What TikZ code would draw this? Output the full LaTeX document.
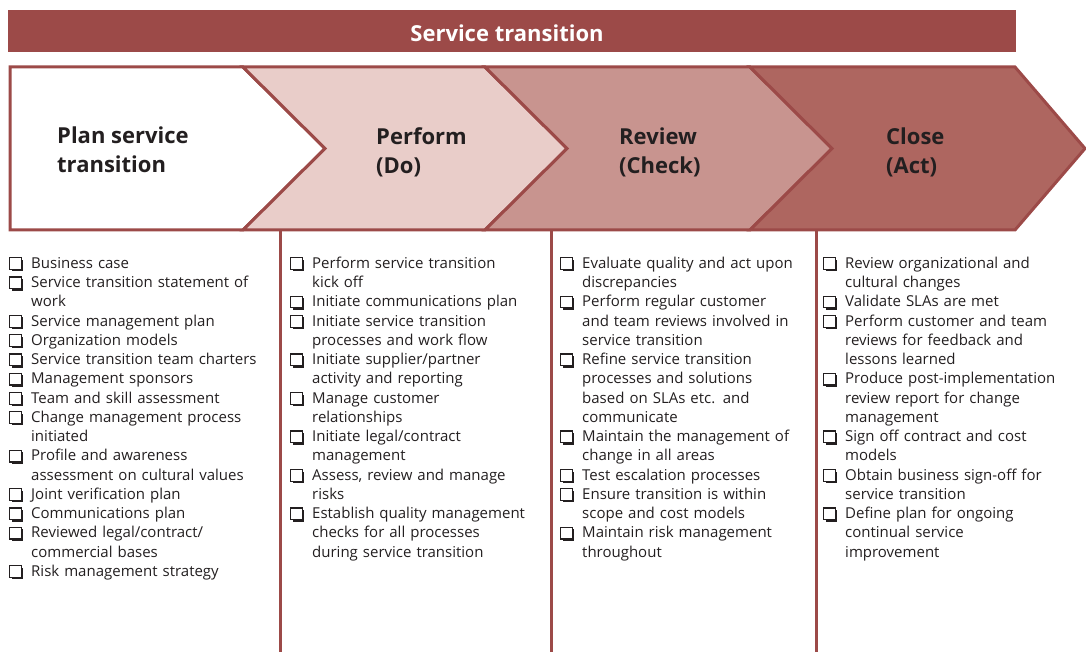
\documentclass[tikz,border=0pt]{standalone}
\usepackage{fontspec}
\setmainfont{Open Sans}
\usepackage{tikz}
\usetikzlibrary{positioning, calc}

\definecolor{StRed}{HTML}{9C4A48}
\definecolor{DoFill}{HTML}{E9CDC9}
\definecolor{CheckFill}{HTML}{C8948F}
\definecolor{ActFill}{HTML}{AE6660}
\definecolor{InkGray}{HTML}{231F20}

% checkbox with drop shadow and one checklist entry (hanging indent)
\newcommand{\chk}{\tikz[baseline=0pt]{
    \fill[InkGray] (2pt,-3pt) rectangle (13.6pt,8.7pt);
    \draw[InkGray, fill=white, line width=1.1pt] (0pt,-1pt) rectangle (11.6pt,10.7pt);}}
\newcommand{\chkitem}[1]{\par\noindent\hangindent=22pt\hangafter=1%
    \makebox[22pt][l]{\chk}{\let\\\newline#1}\par}

\tikzset{
    % Title bar on top
    banner_bar/.style={fill=StRed, draw=none},
    % Chevron outline
    phase_shape/.style={draw=StRed, line width=3pt, line join=miter},
    % Bold phase names inside the chevrons
    phase_label/.style={
        anchor=west, align=left, inner sep=0pt, text=InkGray,
        font=\fontsize{22}{29}\selectfont\bfseries
    },
    % Checklist columns
    item_list/.style={
        anchor=north west, text width=#1, inner sep=0pt, text=InkGray,
        font=\fontsize{15}{19.25}\selectfont
    },
    item_list/.default=262pt,
    % Column separators
    col_rule/.style={draw=StRed, line width=3pt}
}

\begin{document}
\begin{tikzpicture}[x=1pt, y=-1pt]
\useasboundingbox (0,0) rectangle (1086,652);

% --- TITLE BAR ---
\path[banner_bar] (8,10) rectangle (1016,52);
\node[text=white, font=\fontsize{22}{26}\selectfont\bfseries] (title) at (507,33) {Service transition};

% --- CHEVRONS ---
\draw[phase_shape, fill=white]
    (10,67) -- (243,67) -- (325,148.5) -- (243,230) -- (10,230) -- cycle;
\draw[phase_shape, fill=DoFill]
    (243,67) -- (485,67) -- (567,148.5) -- (485,230) -- (243,230) -- (325,148.5) -- cycle;
\draw[phase_shape, fill=CheckFill]
    (485,67) -- (750,67) -- (832,148.5) -- (750,230) -- (485,230) -- (567,148.5) -- cycle;
\draw[phase_shape, fill=ActFill]
    (750,67) -- (1015,67) -- (1085,148.5) -- (1015,230) -- (750,230) -- (832,148.5) -- cycle;

\node[phase_label] (plan_lbl)   at (57,150)  {Plan service\\transition};
\node[phase_label] (do_lbl)     at (376,152) {Perform\\(Do)};
\node[phase_label] (check_lbl)  at (619,152) {Review\\(Check)};
\node[phase_label] (act_lbl)    at (886,152) {Close\\(Act)};

% --- COLUMN SEPARATORS ---
\coordinate (sep1_top) at (280,230);
\coordinate (sep2_top) at (551,230);
\coordinate (sep3_top) at (816,230);
\foreach \s in {sep1_top, sep2_top, sep3_top}
    \draw[col_rule] (\s) -- (\s |- 0,652);

% --- CHECKLISTS ---
\node[item_list] (plan_list) at (9,249) {
    \chkitem{Business case}
    \chkitem{Service transition statement of\\work}
    \chkitem{Service management plan}
    \chkitem{Organization models}
    \chkitem{Service transition team charters}
    \chkitem{Management sponsors}
    \chkitem{Team and skill assessment}
    \chkitem{Change management process\\initiated}
    \chkitem{Profile and awareness\\assessment on cultural values}
    \chkitem{Joint verification plan}
    \chkitem{Communications plan}
    \chkitem{Reviewed legal/contract/\\commercial bases}
    \chkitem{Risk management strategy}
};

\node[item_list] (do_list) at (290,249) {
    \chkitem{Perform service transition\\kick off}
    \chkitem{Initiate communications plan}
    \chkitem{Initiate service transition\\processes and work flow}
    \chkitem{Initiate supplier/partner\\activity and reporting}
    \chkitem{Manage customer\\relationships}
    \chkitem{Initiate legal/contract\\management}
    \chkitem{Assess, review and manage\\risks}
    \chkitem{Establish quality management\\checks for all processes\\during service transition}
};

\node[item_list] (check_list) at (560,249) {
    \chkitem{Evaluate quality and act upon\\discrepancies}
    \chkitem{Perform regular customer\\and team reviews involved in\\service transition}
    \chkitem{Refine service transition\\processes and solutions\\based on SLAs etc. and\\communicate}
    \chkitem{Maintain the management of\\change in all areas}
    \chkitem{Test escalation processes}
    \chkitem{Ensure transition is within\\scope and cost models}
    \chkitem{Maintain risk management\\throughout}
};

\node[item_list] (act_list) at (823,249) {
    \chkitem{Review organizational and\\cultural changes}
    \chkitem{Validate SLAs are met}
    \chkitem{Perform customer and team\\reviews for feedback and\\lessons learned}
    \chkitem{Produce post-implementation\\review report for change\\management}
    \chkitem{Sign off contract and cost\\models}
    \chkitem{Obtain business sign-off for\\service transition}
    \chkitem{Define plan for ongoing\\continual service\\improvement}
};

\end{tikzpicture}
\end{document}
